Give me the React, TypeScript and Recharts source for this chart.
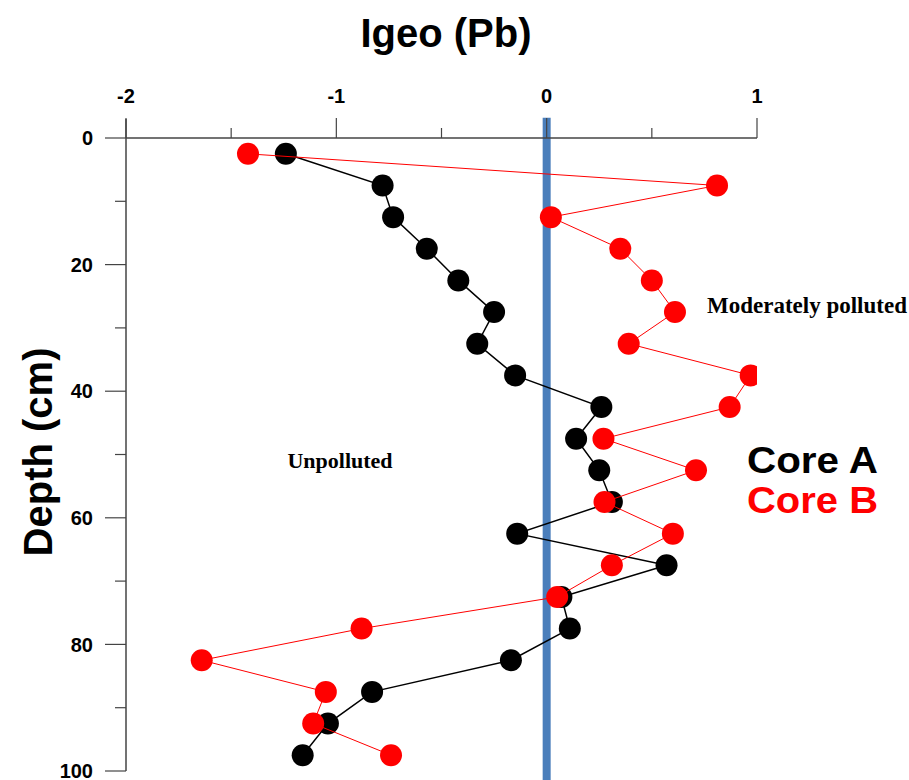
import React from "react";
import { ScatterChart, Scatter, XAxis, YAxis, ReferenceLine } from "recharts";

// depth (cm) of each sample slice
const depths = [2.5, 7.5, 12.5, 17.5, 22.5, 27.5, 32.5, 37.5, 42.5, 47.5, 52.5, 57.5, 62.5, 67.5, 72.5, 77.5, 82.5, 87.5, 92.5, 97.5];

// Igeo (Pb) per slice
const coreA = [-1.24, -0.78, -0.73, -0.57, -0.42, -0.25, -0.33, -0.15, 0.26, 0.14, 0.25, 0.31, -0.14, 0.57, 0.07, 0.11, -0.17, -0.83, -1.04, -1.16];
const coreB = [-1.42, 0.81, 0.02, 0.35, 0.5, 0.61, 0.39, 0.97, 0.87, 0.27, 0.71, 0.275, 0.6, 0.31, 0.05, -0.88, -1.64, -1.05, -1.11, -0.74];

const xTicks = [-2, -1.5, -1, -0.5, 0, 0.5, 1];
const yTicks = [0, 10, 20, 30, 40, 50, 60, 70, 80, 90, 100];
const xMajor = [-2, -1, 0, 1];
const yMajor = [0, 20, 40, 60, 80, 100];

const dataA = depths.map((d, i) => ({ igeo: coreA[i], depth: d }));
const dataB = depths.map((d, i) => ({ igeo: coreB[i], depth: d }));

const AXIS = "#444";
const SANS = "'Liberation Sans', Arial, sans-serif";
const SERIF = "'Liberation Serif', 'Times New Roman', serif";

function XTick(props: any) {
  const { x, y, payload } = props;
  const major = xMajor.includes(payload.value);
  return (
    <g>
      <line x1={x} x2={x} y1={y} y2={y - (major ? 20 : 10)} stroke={AXIS} strokeWidth={1.2} />
      {major && (
        <text x={x} y={y - 35} textAnchor="middle" fontFamily={SANS} fontWeight="bold" fontSize={20} fill="#000">
          {payload.value}
        </text>
      )}
    </g>
  );
}

function YTick(props: any) {
  const { x, y, payload } = props;
  const major = yMajor.includes(payload.value);
  return (
    <g>
      <line x1={x} x2={x - (major ? 21 : 11)} y1={y} y2={y} stroke={AXIS} strokeWidth={1.2} />
      {major && (
        <text x={x - 33} y={y} dy="0.36em" textAnchor="end" fontFamily={SANS} fontWeight="bold" fontSize={20} fill="#000">
          {payload.value}
        </text>
      )}
    </g>
  );
}

const dot = (fill: string) => (p: any) => <circle cx={p.cx} cy={p.cy} r={11} fill={fill} />;

export default function App() {
  return (
    <div style={{ position: "absolute", left: 0, top: 0, width: 909, height: 780 }}>
      <ScatterChart width={909} height={780} margin={{ top: 108, right: 152, bottom: 9, left: 66 }}>
        <XAxis
          type="number"
          dataKey="igeo"
          orientation="top"
          domain={[-2, 1]}
          ticks={xTicks}
          allowDataOverflow
          height={30}
          tickSize={0}
          tickMargin={0}
          tickLine={false}
          axisLine={{ stroke: AXIS, strokeWidth: 1.5 }}
          tick={XTick}
        />
        <YAxis
          type="number"
          dataKey="depth"
          domain={[0, 100]}
          reversed
          ticks={yTicks}
          allowDataOverflow
          width={60}
          tickSize={0}
          tickMargin={0}
          tickLine={false}
          axisLine={{ stroke: AXIS, strokeWidth: 1.5 }}
          tick={YTick}
        />
        <ReferenceLine
          segment={[{ x: -2, y: -3 }, { x: -2, y: 0 }]}
          stroke={AXIS}
          strokeWidth={1.5}
          ifOverflow="visible"
        />
        <Scatter
          data={dataA}
          line={{ stroke: "#000", strokeWidth: 1.5 }}
          shape={dot("#000")}
          isAnimationActive={false}
        />
        <Scatter
          data={dataB}
          line={{ stroke: "#ff0000", strokeWidth: 1 }}
          shape={dot("#ff0000")}
          isAnimationActive={false}
        />
        <ReferenceLine
          segment={[{ x: 0, y: -3.2 }, { x: 0, y: 101.5 }]}
          stroke="#4a7ebb"
          strokeWidth={8}
          ifOverflow="visible"
        />
      </ScatterChart>
      <svg width={909} height={780} style={{ position: "absolute", left: 0, top: 0, pointerEvents: "none" }}>
        <text x={446} y={47} textAnchor="middle" fontFamily={SANS} fontWeight="bold" fontSize={40} fill="#000">
          Igeo (Pb)
        </text>
        <text
          transform="translate(52 452) rotate(-90)"
          textAnchor="middle"
          fontFamily={SANS}
          fontWeight="bold"
          fontSize={40}
          fill="#000"
        >
          Depth (cm)
        </text>
        <text x={340} y={468} textAnchor="middle" fontFamily={SERIF} fontWeight="bold" fontSize={22} fill="#000">
          Unpolluted
        </text>
        <text x={807} y={313} textAnchor="middle" fontFamily={SERIF} fontWeight="bold" fontSize={23} fill="#000">
          Moderately polluted
        </text>
        <text x={747} y={473} fontFamily={SANS} fontWeight="bold" fontSize={37} textLength={131} lengthAdjust="spacingAndGlyphs" fill="#000">
          Core A
        </text>
        <text x={747} y={513} fontFamily={SANS} fontWeight="bold" fontSize={37} textLength={131} lengthAdjust="spacingAndGlyphs" fill="#ff0000">
          Core B
        </text>
      </svg>
    </div>
  );
}
